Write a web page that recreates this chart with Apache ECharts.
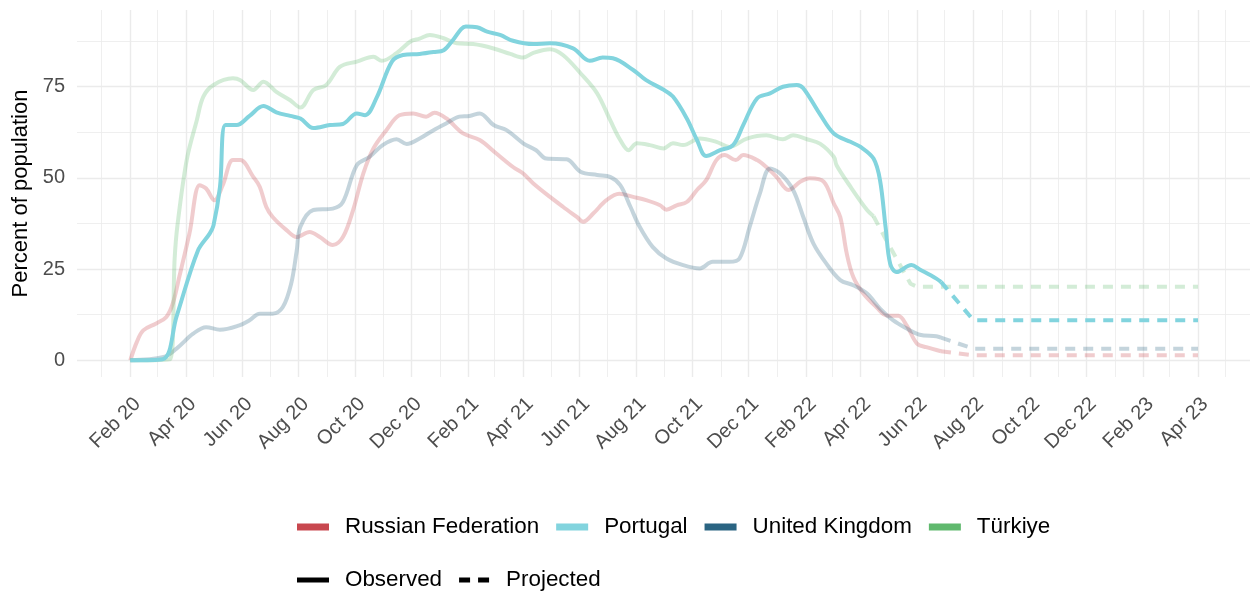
<!DOCTYPE html>
<html>
<head>
<meta charset="utf-8">
<title>Percent of population</title>
<script src="https://cdn.jsdelivr.net/npm/echarts@6/dist/echarts.min.js"></script>
<style>
    html, body { margin: 0; padding: 0; background: #fff; }
    #chart { width: 1252px; height: 595px; }
</style>
</head>
<body>
<div id="chart"></div>
<script>
// #region data
const russiaObserved = [
    ['2020-02-01', 0], ['2020-02-08', 5], ['2020-02-15', 8.2], ['2020-02-29', 10.1], ['2020-03-11', 11.9],
    ['2020-03-18', 15.6], ['2020-03-25', 22.9], ['2020-04-05', 34.8], ['2020-04-16', 48], ['2020-04-23', 47.1],
    ['2020-05-02', 43.9], ['2020-05-11', 48], ['2020-05-22', 54.9], ['2020-05-30', 54.9], ['2020-06-13', 50.3],
    ['2020-06-20', 47.6], ['2020-06-27', 42.1], ['2020-07-04', 39.3], ['2020-07-19', 35.7], ['2020-07-30', 33.8],
    ['2020-08-13', 35.2], ['2020-08-24', 33.8], ['2020-09-07', 31.6], ['2020-09-18', 33.8], ['2020-09-29', 41.2],
    ['2020-10-10', 51.2], ['2020-10-21', 58.1], ['2020-11-04', 63.1], ['2020-11-18', 67.2], ['2020-12-03', 67.7],
    ['2020-12-17', 66.8], ['2020-12-26', 67.9], ['2021-01-08', 66.3], ['2021-01-26', 62.2], ['2021-02-13', 60.4],
    ['2021-03-03', 56.7], ['2021-03-21', 53], ['2021-04-01', 51.2], ['2021-04-12', 48.5], ['2021-04-30', 44.8],
    ['2021-05-14', 42.1], ['2021-05-29', 39.3], ['2021-06-05', 38], ['2021-06-16', 40.3], ['2021-06-30', 43.9],
    ['2021-07-14', 45.7], ['2021-07-29', 44.8], ['2021-08-12', 43.9], ['2021-08-27', 42.5], ['2021-09-03', 41.3],
    ['2021-09-14', 42.5], ['2021-09-25', 43.4], ['2021-10-06', 46.7], ['2021-10-16', 49.4], ['2021-10-27', 54.9],
    ['2021-11-05', 56.3], ['2021-11-17', 54.9], ['2021-11-25', 56.3], ['2021-12-10', 54.9], ['2021-12-20', 53],
    ['2021-12-31', 50.3], ['2022-01-13', 46.7], ['2022-01-26', 49], ['2022-02-05', 49.9], ['2022-02-20', 49],
    ['2022-03-03', 43], ['2022-03-10', 39.3], ['2022-03-17', 29.3], ['2022-03-24', 22.9], ['2022-04-04', 18.3],
    ['2022-04-18', 14.6], ['2022-04-29', 12.3], ['2022-05-12', 12.2], ['2022-05-21', 9.5], ['2022-06-01', 4.6],
    ['2022-06-11', 3.6], ['2022-06-27', 2.5]
];
const russiaProjected = [['2022-06-27', 2.5], ['2022-08-01', 1.4], ['2023-04-01', 1.4]];

const portugalObserved = [
    ['2020-02-01', 0], ['2020-03-07', 0.3], ['2020-03-22', 12], ['2020-04-14', 30], ['2020-04-27', 34.8],
    ['2020-05-01', 37], ['2020-05-08', 47.5], ['2020-05-14', 64.5], ['2020-05-26', 64.5], ['2020-06-09', 67],
    ['2020-06-24', 69.7], ['2020-07-08', 68], ['2020-07-23', 67], ['2020-08-03', 66.3], ['2020-08-17', 63.7],
    ['2020-09-04', 64.5], ['2020-09-18', 64.8], ['2020-10-03', 67.7], ['2020-10-12', 67.2], ['2020-10-25', 72.3],
    ['2020-11-10', 81.9], ['2020-11-22', 83.7], ['2020-12-10', 84], ['2020-12-25', 84.5], ['2021-01-05', 85],
    ['2021-01-15', 87.8], ['2021-01-29', 91.5], ['2021-02-10', 91.3], ['2021-02-21', 90.1], ['2021-03-07', 89.2],
    ['2021-03-21', 87.6], ['2021-04-12', 86.7], ['2021-04-30', 86.9], ['2021-05-25', 85.5], ['2021-06-12', 82.1],
    ['2021-06-26', 83], ['2021-07-07', 82.8], ['2021-07-29', 79.6], ['2021-08-12', 76.8], ['2021-08-30', 74.3],
    ['2021-09-10', 72.3], ['2021-09-25', 66.3], ['2021-10-06', 60.4], ['2021-10-16', 56], ['2021-10-31', 57.6],
    ['2021-11-14', 59], ['2021-11-25', 64.5], ['2021-12-10', 71.8], ['2021-12-24', 73.2], ['2022-01-07', 75],
    ['2022-01-22', 75.5], ['2022-01-29', 74.6], ['2022-02-16', 67.5], ['2022-03-03', 62.2], ['2022-03-21', 59.9],
    ['2022-04-01', 58.5], ['2022-04-15', 55.3], ['2022-04-22', 49.4], ['2022-04-28', 36.6], ['2022-05-03', 26.5],
    ['2022-05-10', 24.2], ['2022-05-26', 26.1], ['2022-06-04', 24.9], ['2022-06-22', 22.4], ['2022-06-27', 21.5]
];
const portugalProjected = [['2022-06-27', 21.5], ['2022-08-01', 11], ['2023-04-01', 11]];

const ukObserved = [
    ['2020-02-01', 0], ['2020-03-08', 0.9], ['2020-03-22', 3.2], ['2020-04-09', 7.3], ['2020-04-23', 9.1],
    ['2020-05-08', 8.4], ['2020-05-29', 9.6], ['2020-06-09', 11], ['2020-06-20', 12.8], ['2020-07-04', 12.8],
    ['2020-07-15', 14.6], ['2020-07-24', 21], ['2020-07-30', 30], ['2020-08-03', 36.6], ['2020-08-17', 41.2],
    ['2020-09-07', 41.6], ['2020-09-18', 43.4], ['2020-10-03', 53.5], ['2020-10-17', 55.8], ['2020-10-31', 59],
    ['2020-11-15', 60.6], ['2020-11-26', 59.3], ['2020-12-10', 60.8], ['2020-12-25', 63.1], ['2021-01-08', 65],
    ['2021-01-22', 66.8], ['2021-02-02', 67], ['2021-02-13', 67.7], ['2021-02-28', 64.5], ['2021-03-14', 63.1],
    ['2021-04-01', 59.5], ['2021-04-15', 57.6], ['2021-04-26', 55.3], ['2021-05-18', 55.1], ['2021-06-02', 51.7],
    ['2021-06-20', 50.8], ['2021-07-04', 50.3], ['2021-07-15', 48], ['2021-07-26', 42.1], ['2021-08-05', 36.6],
    ['2021-08-19', 31.1], ['2021-09-03', 27.9], ['2021-09-21', 26.1], ['2021-10-09', 25.2], ['2021-10-23', 27],
    ['2021-11-10', 27], ['2021-11-21', 27.9], ['2021-12-02', 36.6], ['2021-12-13', 45.7], ['2021-12-24', 52.6],
    ['2022-01-04', 51.2], ['2022-01-18', 46.7], ['2022-01-29', 39.3], ['2022-02-09', 32], ['2022-02-23', 26.5],
    ['2022-03-10', 22], ['2022-03-24', 20.6], ['2022-04-08', 18.3], ['2022-04-22', 14.2], ['2022-05-06', 11],
    ['2022-05-21', 8.7], ['2022-06-04', 7], ['2022-06-22', 6.6], ['2022-06-27', 6.2]
];
const ukProjected = [['2022-06-27', 6.2], ['2022-08-01', 3.2], ['2023-04-01', 3.2]];

const turkeyObserved = [
    ['2020-02-01', 0], ['2020-03-15', 0.3], ['2020-03-20', 28], ['2020-03-23', 37], ['2020-04-02', 54.9],
    ['2020-04-13', 65.9], ['2020-04-20', 72.3], ['2020-05-01', 75.5], ['2020-05-22', 77.3], ['2020-05-30', 76.8],
    ['2020-06-13', 74.1], ['2020-06-24', 76.4], ['2020-07-08', 73.6], ['2020-07-23', 71.3], ['2020-08-03', 69.3],
    ['2020-08-17', 74.1], ['2020-08-31', 75.5], ['2020-09-15', 80.5], ['2020-10-03', 81.9], ['2020-10-21', 83.2],
    ['2020-10-30', 82.1], ['2020-11-15', 84.2], ['2020-11-30', 87.4], ['2020-12-10', 88.2], ['2020-12-21', 89.2],
    ['2021-01-05', 88.3], ['2021-01-19', 86.9], ['2021-02-06', 86.7], ['2021-02-28', 85.5], ['2021-03-18', 84],
    ['2021-04-01', 83], ['2021-04-12', 84.3], ['2021-04-30', 85.3], ['2021-05-14', 83.7], ['2021-06-02', 78.7],
    ['2021-06-20', 73.2], ['2021-07-04', 65.9], ['2021-07-15', 60.4], ['2021-07-24', 57.6], ['2021-08-02', 59.5],
    ['2021-08-16', 59], ['2021-08-31', 58.1], ['2021-09-10', 59.5], ['2021-09-21', 59], ['2021-10-09', 60.8],
    ['2021-10-27', 59.9], ['2021-11-10', 58.5], ['2021-11-29', 60.8], ['2021-12-20', 61.7], ['2022-01-07', 60.6],
    ['2022-01-18', 61.7], ['2022-02-02', 60.6], ['2022-02-16', 59.4], ['2022-03-03', 55.8], ['2022-03-06', 53.5],
    ['2022-03-21', 47.6], ['2022-04-08', 41.2], ['2022-04-15', 39.5]
];
const turkeyProjected = [
    ['2022-04-15', 39.5], ['2022-04-27', 33.8], ['2022-05-09', 28.3], ['2022-05-25', 21], ['2022-06-01', 20.2],
    ['2023-04-01', 20.2]
];

// tick labels / grid positions
const xMajorTicks = [
    '2020-02-01', '2020-04-01', '2020-06-01', '2020-08-01', '2020-10-01', '2020-12-01',
    '2021-02-01', '2021-04-01', '2021-06-01', '2021-08-01', '2021-10-01', '2021-12-01',
    '2022-02-01', '2022-04-01', '2022-06-01', '2022-08-01', '2022-10-01', '2022-12-01',
    '2023-02-01', '2023-04-01'
];
const xMinorTicks = [
    '2020-01-01', '2020-03-01', '2020-05-01', '2020-07-01', '2020-09-01', '2020-11-01',
    '2021-01-01', '2021-03-01', '2021-05-01', '2021-07-01', '2021-09-01', '2021-11-01',
    '2022-01-01', '2022-03-01', '2022-05-01', '2022-07-01', '2022-09-01', '2022-11-01',
    '2023-01-01', '2023-03-01', '2023-05-01'
];
const yMajorTicks = [0, 25, 50, 75];
const yMinorTicks = [12.5, 37.5, 62.5, 87.5];
const monthNames = ['Jan', 'Feb', 'Mar', 'Apr', 'May', 'Jun', 'Jul', 'Aug', 'Sep', 'Oct', 'Nov', 'Dec'];
// #endregion

const FONT = '"Liberation Sans", Arial, Helvetica, sans-serif';
const colors = {
    russia: '#C8474F',
    portugal: '#82D4DE',
    uk: '#2A6482',
    turkey: '#60B96E'
};
const FADED = 0.28;

// dates become timestamps so a plain value axis can carry them
const toTime = s => new Date(s + 'T00:00:00').getTime();
const toPoints = rows => rows.map(r => [toTime(r[0]), r[1]]);

// one line, solid for observed or dashed for projected
const makeLine = (name, data, color, opacity, dashed, z) => ({
    name: name,
    type: 'line',
    data: toPoints(data),
    symbol: 'none',
    smooth: dashed ? false : 0.35,
    silent: true,
    z: z,
    color: color,
    lineStyle: {
        color: color,
        width: 4,
        opacity: opacity,
        type: dashed ? [10, 8] : 'solid',
        cap: 'butt'
    }
});

const myChart = echarts.init(document.getElementById('chart'), null, { renderer: 'canvas' });

const gridColor = '#EBEBEB';
const xMin = new Date(2019, 11, 5, 8).getTime();
const xMax = new Date(2023, 4, 27, 6).getTime();

const legendText = { fontSize: 22.4, color: '#000', fontFamily: FONT, padding: [0, 0, 0, 11] };

const option = {
    animation: false,
    backgroundColor: '#fff',
    textStyle: { fontFamily: FONT },
    grid: {
        left: 77,
        right: 2,
        top: 10,
        bottom: 218,
        containLabel: false,
        outerBoundsMode: 'none'
    },
    xAxis: [
        {
            type: 'value',
            min: xMin,
            max: xMax,
            axisLine: { show: false },
            axisTick: { show: false, customValues: xMajorTicks.map(toTime) },
            splitLine: { show: true, lineStyle: { color: gridColor, width: 1.4 } },
            axisLabel: {
                customValues: xMajorTicks.map(toTime),
                rotate: 45,
                margin: 17,
                verticalAlign: 'top',
                fontSize: 20,
                fontFamily: FONT,
                color: '#4D4D4D',
                hideOverlap: false,
                showMinLabel: true,
                showMaxLabel: true,
                formatter: function (value) {
                    const d = new Date(value);
                    return monthNames[d.getMonth()] + ' ' + String(d.getFullYear()).slice(2);
                }
            }
        },
        {
            // minor vertical grid lines
            type: 'value',
            min: xMin,
            max: xMax,
            position: 'bottom',
            axisLine: { show: false },
            axisTick: { show: false, customValues: xMinorTicks.map(toTime) },
            axisLabel: { show: false },
            splitLine: { show: true, lineStyle: { color: gridColor, width: 0.8 } }
        }
    ],
    yAxis: [
        {
            type: 'value',
            min: -4.57,
            max: 96.04,
            name: 'Percent of population',
            nameLocation: 'middle',
            nameRotate: 90,
            nameGap: 40,
            nameTextStyle: { fontSize: 22, color: '#000', fontFamily: FONT },
            axisLine: { show: false },
            axisTick: { show: false, customValues: yMajorTicks },
            splitLine: { show: true, lineStyle: { color: gridColor, width: 1.4 } },
            axisLabel: {
                customValues: yMajorTicks,
                margin: 12,
                fontSize: 20,
                fontFamily: FONT,
                color: '#4D4D4D'
            }
        },
        {
            // minor horizontal grid lines
            type: 'value',
            min: -4.57,
            max: 96.04,
            position: 'left',
            axisLine: { show: false },
            axisTick: { show: false, customValues: yMinorTicks },
            axisLabel: { show: false },
            splitLine: { show: true, lineStyle: { color: gridColor, width: 0.8 } }
        }
    ],
    legend: [
        {
            left: 297,
            top: 516,
            padding: 0,
            orient: 'horizontal',
            selectedMode: false,
            itemWidth: 32,
            itemHeight: 7,
            itemGap: 17,
            textStyle: legendText,
            itemStyle: { borderWidth: 0 },
            data: [
                { name: 'Russian Federation', icon: 'rect', itemStyle: { color: colors.russia, opacity: 1 } },
                { name: 'Portugal', icon: 'rect', itemStyle: { color: colors.portugal, opacity: 1 } },
                { name: 'United Kingdom', icon: 'rect', itemStyle: { color: colors.uk, opacity: 1 } },
                { name: 'Türkiye', icon: 'rect', itemStyle: { color: colors.turkey, opacity: 1 } }
            ]
        },
        {
            left: 297,
            top: 569,
            padding: 0,
            orient: 'horizontal',
            selectedMode: false,
            itemWidth: 32,
            itemHeight: 5,
            itemGap: 17,
            textStyle: legendText,
            itemStyle: { borderWidth: 0 },
            data: [
                { name: 'Observed', icon: 'rect', itemStyle: { color: '#000', opacity: 1 } },
                { name: 'Projected', icon: 'path://M0,0H11V5H0Z M19,0H30V5H19Z', itemStyle: { color: '#000', opacity: 1 } }
            ]
        }
    ],
    series: [
        makeLine('Russian Federation', russiaObserved, colors.russia, FADED, false, 2),
        makeLine('Russian Federation', russiaProjected, colors.russia, FADED, true, 2),
        makeLine('United Kingdom', ukObserved, colors.uk, FADED, false, 2),
        makeLine('United Kingdom', ukProjected, colors.uk, FADED, true, 2),
        makeLine('Türkiye', turkeyObserved, colors.turkey, FADED, false, 2),
        makeLine('Türkiye', turkeyProjected, colors.turkey, FADED, true, 2),
        makeLine('Portugal', portugalObserved, colors.portugal, 1, false, 3),
        makeLine('Portugal', portugalProjected, colors.portugal, 1, true, 3),
        // legend-only entries for the line type key
        makeLine('Observed', [], '#000', 1, false, 1),
        makeLine('Projected', [], '#000', 1, true, 1)
    ]
};

myChart.setOption(option);

window.addEventListener('resize', () => {
    myChart.resize();
});
</script>
</body>
</html>
